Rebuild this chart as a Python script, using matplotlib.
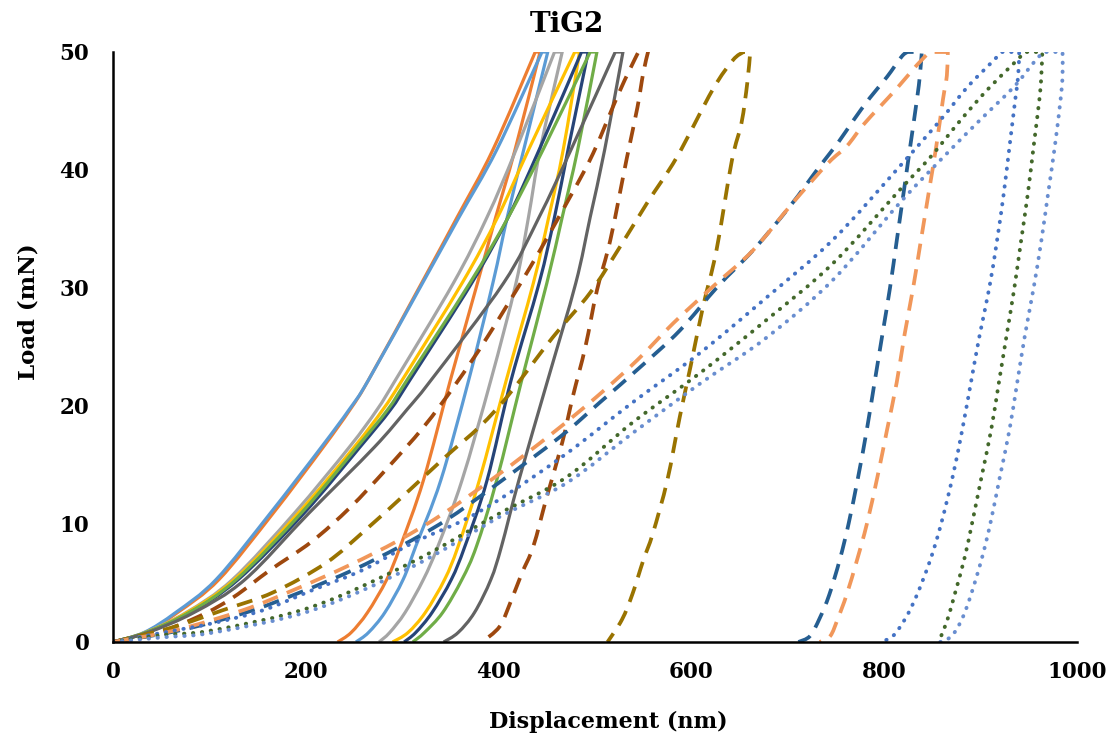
#!/usr/bin/env python3
"""Load-displacement curves (nanoindentation), TiG2."""

import matplotlib
matplotlib.use("Agg")
import matplotlib.pyplot as plt
from matplotlib.path import Path
from matplotlib.patches import PathPatch

FONT = "DejaVu Serif"

# ---------- solid curves: shared load levels (mN) ----------
P_UP = [0, 0.8, 2.5, 5.3, 10.9, 16.5, 19.7, 22.2, 30.4, 36.0, 41.7, 50]
P_DN = [50, 41.7, 36.0, 30.4, 22.2, 13.7, 8.1, 5.3, 2.5, 0.8, 0]

orange_up = [0, 33, 67, 110, 166, 218, 246, 265, 320, 357, 394, 438]
orange_dn = [443, 417, 397, 378, 350, 322, 298, 284, 264, 247, 233]
ltblue_up = [0, 32, 65, 107, 163, 216, 245, 265, 321, 359, 398, 445]
ltblue_dn = [451, 426, 409, 394, 369, 340, 314, 301, 282, 265, 252]
gray_up = [0, 33, 76, 124, 188, 245, 274, 293, 353, 388, 418, 458]
gray_dn = [466, 443, 431, 418, 392, 362, 337, 322, 303, 287, 276]
gold_up = [0, 34, 77, 126, 192, 250, 280, 300, 362, 399, 431, 479]
gold_dn = [484, 467, 452, 436, 408, 380, 358, 344, 324, 306, 290]
navy_up = [0, 35, 80, 130, 198, 256, 288, 308, 372, 410, 442, 486]
navy_dn = [493, 472, 458, 442, 413, 388, 365, 351, 331, 314, 302]
green_up = [0, 34, 79, 128, 195, 253, 285, 305, 370, 410, 446, 495]
green_dn = [502, 482, 466, 450, 424, 398, 377, 362, 342, 323, 311]
dkgray_up = [0, 36, 84, 137, 203, 271, 305, 330, 405, 442, 475, 521]
dkgray_dn = [529, 510, 495, 480, 451, 421, 403, 392, 375, 358, 343]

# ---------- dashed curves ----------
brown_up_h = [0, 40, 90, 125, 163, 206, 246, 283, 322, 355, 388, 433, 474, 498, 523, 536, 545]
brown_up_p = [0, 0.6, 2.2, 3.8, 6.1, 8.5, 11.4, 14.6, 18.2, 21.8, 25.8, 31.8, 37.7, 41.4, 46.2, 48.5, 50]
brown_dn_h = [555, 550, 544, 533, 516, 502, 490, 477, 466, 450, 436, 424, 412, 401, 383]
brown_dn_p = [50, 48.2, 45.3, 41.0, 34.1, 29.8, 25.0, 20.8, 16.9, 12.3, 8.1, 5.8, 3.3, 1.3, 0]

olive_up_h = [0, 60, 114, 166, 221, 262, 304, 345, 381, 410, 456, 495, 526, 554, 585, 622, 643, 654]
olive_up_p = [0, 1.2, 2.7, 4.2, 6.7, 9.5, 12.6, 15.7, 18.3, 20.9, 25.8, 29.6, 33.5, 37.2, 41.1, 46.8, 49.3, 50]
olive_dn_h = [661, 658, 652, 642, 626, 612, 599, 588, 575, 560, 550, 539, 528, 513]
olive_dn_p = [50, 47.4, 44.0, 40.8, 33.2, 28.4, 23.3, 19.1, 13.7, 9.2, 6.9, 4.1, 1.9, 0]

# unloading load levels shared by the deep indents
P_DN_DEEP = [50, 48, 46, 42, 38, 34, 30, 26, 22, 18, 14, 10, 7, 4, 2, 0.5, 0]

steel_up_h = [0, 70, 138, 194, 249, 298, 345, 397, 464, 505, 547, 588, 627, 664, 702, 733, 752, 768, 785, 803, 818, 824]
steel_up_p = [0, 1.0, 2.5, 4.2, 6.1, 8.1, 10.3, 13.3, 17.4, 20.3, 23.3, 26.4, 30.1, 33.2, 36.9, 40.3, 42.3, 44.2, 46.1, 47.9, 49.6, 50]
steel_dn_h = [839, 837, 834, 827, 820, 813, 806, 798, 790, 782, 773, 763, 754, 743, 733, 723, 711]

salmon_up_h = [0, 65, 135, 190, 245, 296, 343, 400, 456, 502, 544, 581, 622, 664, 705, 742, 761, 778, 796, 814, 834, 847]
salmon_up_p = [0, 1.0, 2.7, 4.5, 6.5, 8.6, 10.9, 14.2, 17.7, 20.8, 23.9, 27.0, 30.1, 33.2, 37.2, 40.6, 42.0, 43.8, 45.4, 47.0, 48.9, 50]
salmon_dn_h = [866, 865, 861, 854, 846, 838, 830, 821, 813, 803, 793, 782, 772, 761, 752, 744, 733]

# ---------- dotted curves ----------
blue_up_h = [0, 52, 104, 156, 207, 259, 311, 363, 405, 471, 539, 609, 678, 747, 816, 858, 886, 910, 922]
blue_up_p = [0, 0.8, 1.6, 2.7, 4.4, 6.1, 8.4, 10.3, 12.3, 16.0, 20.3, 24.5, 29.2, 34.1, 40.3, 44.2, 47.0, 49.0, 50]
blue_dn_h = [940, 939, 936, 930, 924, 917, 909, 899, 890, 881, 871, 859, 848, 834, 822, 809, 796]

dkgreen_up_h = [0, 52, 104, 207, 311, 401, 471, 539, 609, 678, 747, 816, 848, 879, 907, 934, 946]
dkgreen_up_p = [0, 0.6, 1.0, 3.0, 6.8, 10.9, 14.0, 18.6, 22.8, 27.3, 32.1, 38.3, 41.1, 44.2, 46.8, 49.0, 50]
dkgreen_dn_h = [964, 963, 961, 955, 949, 942, 935, 927, 919, 911, 901, 891, 883, 873, 866, 859, 855]

sky_up_h = [0, 52, 104, 207, 311, 401, 471, 539, 609, 678, 747, 816, 865, 899, 934, 954, 965]
sky_up_p = [0, 0.4, 0.8, 2.7, 6.4, 10.6, 13.5, 17.7, 21.9, 25.8, 30.7, 37.2, 41.4, 44.2, 47.0, 49.0, 50]
sky_dn_h = [985, 985, 983, 977, 970, 963, 955, 946, 938, 930, 920, 910, 901, 890, 881, 870, 858]

X_TICKS = [0, 200, 400, 600, 800, 1000]
Y_TICKS = [0, 10, 20, 30, 40, 50]

LW = 2.3
DASH = (0, (4.3, 2.6))
DOT = (0, (0.1, 2.2))


# ---------- smooth (Catmull-Rom -> cubic Bezier) line through points ----------
def branch(h, p):
    pts = list(zip(h, p))
    n = len(pts)
    verts, codes = [], []
    for i in range(n - 1):
        p0 = pts[max(i - 1, 0)]; p1 = pts[i]
        p2 = pts[i + 1]; p3 = pts[min(i + 2, n - 1)]
        c1 = (p1[0] + (p2[0] - p0[0]) / 6, p1[1] + (p2[1] - p0[1]) / 6)
        c2 = (p2[0] - (p3[0] - p1[0]) / 6, p2[1] - (p3[1] - p1[1]) / 6)
        verts += [c1, c2, p2]
        codes += [Path.CURVE4] * 3
    return verts, codes


def curve_path(up_h, up_p, dn_h, dn_p):
    verts = [(up_h[0], up_p[0])]
    codes = [Path.MOVETO]
    v, c = branch(up_h, up_p)
    verts += v; codes += c
    verts.append((dn_h[0], dn_p[0])); codes.append(Path.LINETO)
    v, c = branch(dn_h, dn_p)
    verts += v; codes += c
    return Path(verts, codes)


def draw(ax, up_h, up_p, dn_h, dn_p, color, ls, lw, cap="butt"):
    patch = PathPatch(curve_path(up_h, up_p, dn_h, dn_p), fill=False,
                      edgecolor=color, lw=lw, linestyle=ls,
                      capstyle=cap, joinstyle="round")
    ax.add_patch(patch)


def main():
    fig = plt.figure(figsize=(11.17, 7.48), dpi=100)
    ax = fig.add_axes([113 / 1117, 1 - 642 / 748, (1077 - 113) / 1117, (642 - 52) / 748])

    solid = [
        (orange_up, orange_dn, "#ED7D31"),
        (ltblue_up, ltblue_dn, "#5B9BD5"),
        (gray_up, gray_dn, "#A5A5A5"),
        (gold_up, gold_dn, "#FFC000"),
        (navy_up, navy_dn, "#264478"),
        (green_up, green_dn, "#70AD47"),
        (dkgray_up, dkgray_dn, "#636363"),
    ]
    for up, dn, c in solid:
        draw(ax, up, P_UP, dn, P_DN, c, "-", LW)

    dashed = [
        (brown_up_h, brown_up_p, brown_dn_h, brown_dn_p, "#9E480E"),
        (olive_up_h, olive_up_p, olive_dn_h, olive_dn_p, "#997300"),
        (steel_up_h, steel_up_p, steel_dn_h, P_DN_DEEP, "#255E91"),
        (salmon_up_h, salmon_up_p, salmon_dn_h, P_DN_DEEP, "#F1975A"),
    ]
    for uh, up, dh, dp, c in dashed:
        draw(ax, uh, up, dh, dp, c, DASH, LW + 0.4)

    dotted = [
        (blue_up_h, blue_up_p, blue_dn_h, P_DN_DEEP, "#4472C4"),
        (dkgreen_up_h, dkgreen_up_p, dkgreen_dn_h, P_DN_DEEP, "#43682B"),
        (sky_up_h, sky_up_p, sky_dn_h, P_DN_DEEP, "#698ED0"),
    ]
    for uh, up, dh, dp, c in dotted:
        draw(ax, uh, up, dh, dp, c, DOT, LW + 0.5, cap="round")

    ax.set_xlim(0, 1000)
    ax.set_ylim(0, 50)
    ax.set_xticks(X_TICKS)
    ax.set_yticks(Y_TICKS)
    ax.tick_params(length=0)
    ax.tick_params(axis="x", pad=14)
    ax.tick_params(axis="y", pad=17)
    for lab in ax.get_xticklabels() + ax.get_yticklabels():
        lab.set_fontfamily(FONT)
        lab.set_fontweight("bold")
        lab.set_fontsize(15.5)
    for s in ("top", "right"):
        ax.spines[s].set_visible(False)
    for s in ("left", "bottom"):
        ax.spines[s].set_linewidth(1.8)
        ax.spines[s].set_color("black")

    fig.text(567 / 1117, 1 - 24 / 748, "TiG2", ha="center", va="center",
             fontsize=20, fontweight="bold", family=FONT)
    fig.text(608 / 1117, 1 - 722 / 748, "Displacement (nm)", ha="center", va="center",
             fontsize=16, fontweight="bold", family=FONT)
    fig.text(28 / 1117, 1 - 312 / 748, "Load (mN)", ha="center", va="center",
             rotation=90, fontsize=16.5, fontweight="bold", family=FONT)

    fig.savefig("out.png", dpi=100)
    plt.close(fig)


if __name__ == "__main__":
    main()
